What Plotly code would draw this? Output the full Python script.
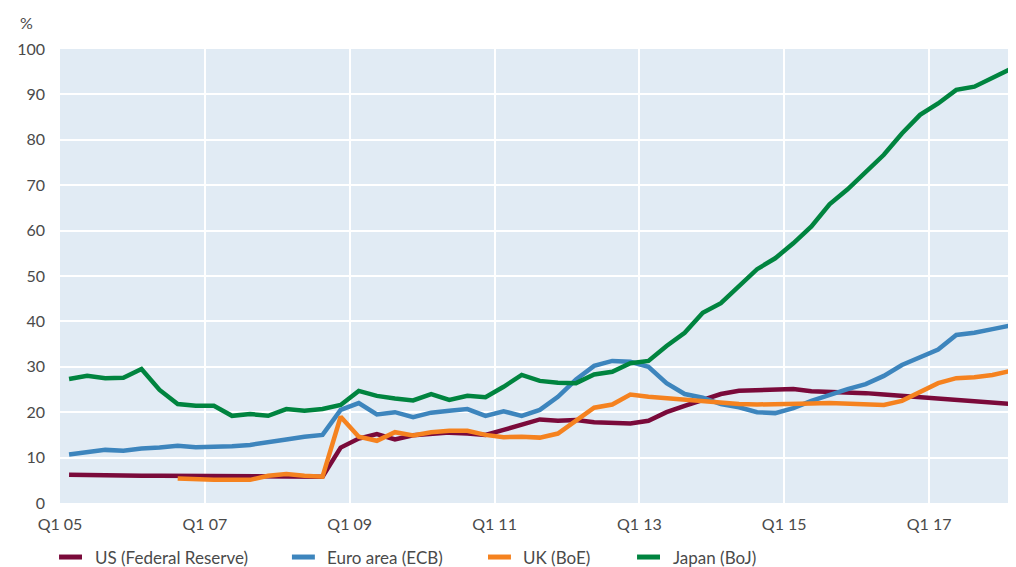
import plotly.graph_objects as go

# Quarterly observations, Q1 2005 ... Q1 2018 (plotted mid-quarter)
quarters = [f"Q{(i % 4) + 1} {5 + i // 4:02d}" for i in range(53)]

us_fed = [6.2, 6.1, 6.1, 6.0, 6.0, 6.0, 6.0, 5.9, 5.9, 6.0,
          5.9, 5.9, 5.9, 5.9, 5.8, 12.2, 14.2, 15.2, 14.0, 14.9,
          15.3, 15.5, 15.3, 15.0, 16.1, 17.3, 18.4, 18.1, 18.3, 17.8,
          17.6, 17.5, 18.1, 20.0, 21.4, 22.7, 24.0, 24.7, 24.9, 25.1,
          25.1, 24.6, 24.5, 24.3, 24.2, 23.9, 23.6, 23.3, 23.1, 22.9,
          22.5, 22.3, 21.8]

euro_ecb = [10.7, 11.2, 11.7, 11.5, 12.0, 12.2, 12.6, 12.3, 12.3, 12.5,
            12.8, 13.3, 14.0, 14.6, 15.0, 20.5, 22.0, 19.5, 20.0, 18.9,
            19.9, 20.3, 20.7, 19.2, 20.2, 19.2, 20.5, 23.4, 27.2, 30.2,
            31.3, 31.1, 30.0, 26.4, 24.0, 23.2, 21.8, 21.1, 20.0, 19.8,
            20.9, 22.5, 23.9, 25.1, 26.2, 28.0, 30.4, 32.2, 33.8, 37.0,
            37.5, 38.3, 39.1]

uk_boe = [None, None, None, None, None, None, 5.4, 5.2, 5.1, 5.1,
          5.1, 6.0, 6.4, 6.0, 5.8, 19.0, 14.6, 13.7, 15.6, 14.9,
          15.6, 15.9, 15.9, 15.0, 14.5, 14.6, 14.4, 15.3, 18.1, 21.0,
          21.7, 23.9, 23.4, 23.1, 22.7, 22.3, 22.0, 21.8, 21.7, 21.7,
          21.8, 21.9, 22.0, 21.8, 21.7, 21.6, 22.5, 24.5, 26.4, 27.5,
          27.7, 28.2, 29.1]

japan_boj = [27.3, 28.0, 27.5, 27.6, 29.5, 24.9, 21.8, 21.4, 21.4, 19.2,
             19.6, 19.2, 20.7, 20.3, 20.7, 21.6, 24.7, 23.6, 23.0, 22.6,
             24.0, 22.7, 23.6, 23.3, 25.6, 28.2, 26.9, 26.5, 26.4, 28.3,
             28.9, 30.8, 31.3, 34.6, 37.5, 41.9, 44.0, 47.6, 51.5, 53.9,
             57.2, 60.9, 65.8, 69.1, 72.8, 76.7, 81.4, 85.5, 88.0, 91.0,
             91.7, 93.7, 95.6]

tick_vals = [0, 8, 16, 24, 32, 40, 48]
tick_text = ["Q1 05", "Q1 07", "Q1 09", "Q1 11", "Q1 13", "Q1 15", "Q1 17"]

series_names = ["US (Federal Reserve)", "Euro area (ECB)", "UK (BoE)", "Japan (BoJ)"]
series_values = [us_fed, euro_ecb, uk_boe, japan_boj]
series_colors = ["#7a0a3a", "#3d85bd", "#f5821f", "#00843f"]

# legend layout (paper x of swatch start), placed below the plot
legend_x = [-0.001, 0.2426, 0.4477, 0.6036]
legend_y = -0.119
swatch_len = 0.024
text_gap = 0.035

x_pos = [i + 0.5 for i in range(len(quarters))]

fig = go.Figure()
shapes = []
annotations = []
font_col = "#4a4a4a"
font_family = "Lato, Open Sans, sans-serif"

for name, vals, col, lx in zip(series_names, series_values, series_colors, legend_x):
    fig.add_trace(go.Scatter(
        x=x_pos, y=vals, name=name, mode="lines",
        line=dict(color=col, width=4.5), customdata=quarters,
        hovertemplate="%{customdata}: %{y}<extra>" + name + "</extra>",
    ))
    shapes.append(dict(type="line", xref="paper", yref="paper",
                       x0=lx, x1=lx + swatch_len, y0=legend_y, y1=legend_y,
                       line=dict(color=col, width=5)))
    annotations.append(dict(text=name, xref="paper", yref="paper",
                            x=lx + text_gap, y=legend_y, xanchor="left", yanchor="middle",
                            showarrow=False, font=dict(size=17, color=font_col, family=font_family)))

annotations.append(dict(text="%", xref="paper", yref="paper", x=-0.044, y=1.059,
                        xanchor="left", yanchor="middle", showarrow=False,
                        font=dict(size=16, color=font_col, family=font_family)))

fig.update_layout(
    width=1008, height=559,
    margin=dict(l=52, r=0, t=41, b=64),
    paper_bgcolor="white",
    plot_bgcolor="#e1ebf4",
    font=dict(family=font_family, size=16, color=font_col),
    showlegend=False,
    xaxis=dict(range=[0, 52.8], tickmode="array", tickvals=tick_vals, ticktext=tick_text,
               showgrid=True, gridcolor="white", gridwidth=2, zeroline=False,
               showline=False, ticks="", ticklabelstandoff=10, fixedrange=True),
    yaxis=dict(range=[0, 100], tickvals=list(range(0, 101, 10)),
               showgrid=True, gridcolor="white", gridwidth=2, zeroline=False,
               showline=False, ticks="", ticklabelstandoff=14, fixedrange=True),
    shapes=shapes,
    annotations=annotations,
)

fig.write_html("out.html")
